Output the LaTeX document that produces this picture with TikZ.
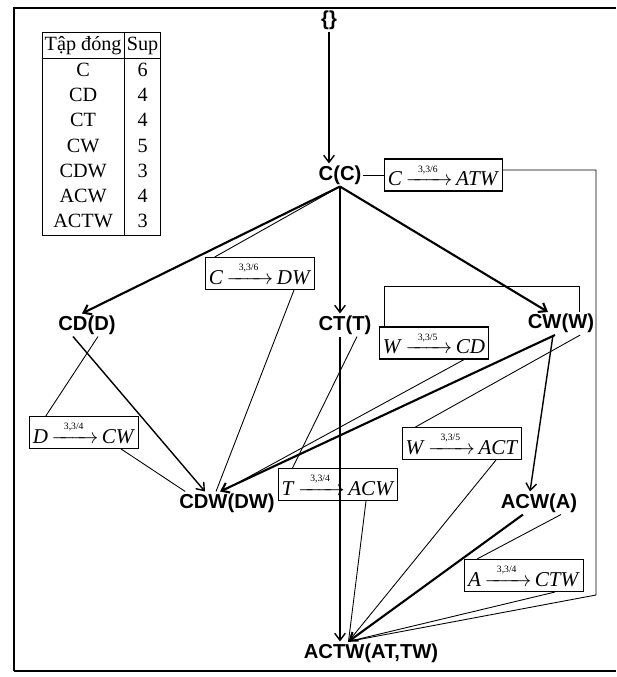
\documentclass[tikz,border=0pt]{standalone}
\usepackage{amsmath}
\usepackage{fontspec}
\setmainfont{Liberation Serif}
\setsansfont{Liberation Sans}
\usepackage{tikz}
\usetikzlibrary{positioning,arrows.meta}

\newcommand{\assoc}[3]{\textit{#1}\,$\xrightarrow{\makebox[20pt]{\raisebox{1pt}{\fontsize{5.5}{6}\selectfont #2}}}$\,\textit{#3}}

\begin{document}
\begin{tikzpicture}[
  >={Straight Barb[length=4pt,width=6pt]},
  lat/.style={font=\fontsize{11.5}{13}\sffamily\bfseries, inner sep=1pt},
  rulebox/.style={draw, line width=0.6pt, minimum height=0.64cm, inner xsep=2pt, inner ysep=1pt,
                  font=\fontsize{12}{14}\selectfont},
  thn/.style={line width=0.5pt},
  med/.style={->, line width=0.8pt},
  thk/.style={->, line width=1.2pt},
]
\useasboundingbox (0,0) rectangle (12.32,-13.54);
\draw[line width=0.8pt] (0.28,-13.42) -- (0.28,-0.16) -- (12.32,-0.16);
\draw[line width=1.6pt] (0.28,-13.42) -- (12.32,-13.42);

\node[draw, line width=0.6pt, inner sep=0pt, font=\fontsize{11.5}{14.4}\selectfont] (tbl) at (2.03,-2.68) {%
  \setlength{\tabcolsep}{1.5pt}%
  \begin{tabular}{c|c}
  Tập đóng & Sup\\ \hline
  C & 6\\ CD & 4\\ CT & 4\\ CW & 5\\ CDW & 3\\ ACW & 4\\ ACTW & 3
  \end{tabular}};

\node[lat] (empty) at (6.58,-0.40) {\{\}};
\node[lat] (cc) at (6.80,-3.50) {C(C)};
\node[lat] (cd) at (1.74,-6.50) {CD(D)};
\node[lat] (ct) at (6.90,-6.50) {CT(T)};
\node[lat] (cw) at (11.22,-6.47) {CW(W)};
\node[lat] (cdw) at (4.54,-10.06) {CDW(DW)};
\node[lat] (acw) at (10.78,-10.06) {ACW(A)};
\node[lat] (actw) at (7.42,-13.06) {ACTW(AT,TW)};

\node[rulebox] (rcatw) at (8.87,-3.50) {\assoc{C}{3,3/6}{ATW}};
\node[rulebox] (rcdw) at (5.20,-5.47) {\assoc{C}{3,3/6}{DW}};
\node[rulebox] (rwcd) at (8.68,-6.86) {\assoc{W}{3,3/5}{CD}};
\node[rulebox] (rdcw) at (1.68,-8.65) {\assoc{D}{3,3/4}{CW}};
\node[rulebox] (rwact) at (9.24,-8.87) {\assoc{W}{3,3/5}{ACT}};
\node[rulebox] (rtacw) at (6.76,-9.69) {\assoc{T}{3,3/4}{ACW}};
\node[rulebox] (ractw) at (10.48,-11.51) {\assoc{A}{3,3/4}{CTW}};

\coordinate (actwin) at ([xshift=-0.45cm]actw.north);
\coordinate (loopc) at (11.92,-11.9);

\draw[med] (empty.south) -- (empty.south |- cc.north);
\draw[thk] (cc.south) -- ([xshift=-0.1cm]cd.north);
\draw[med] (cc.south) -- (cc.south |- ct.north);
\draw[thk] (cc.south) -- ([xshift=-0.26cm]cw.north);
\draw[thn] (cc.south) -- ([xshift=0.2cm]rcdw.north west);
\draw[thn] (cc) -- (rcatw);
\draw[thn] ([yshift=0.1cm]rcatw.east) -| (loopc) -- (actwin);

\draw[thk] ([xshift=-0.12cm]cw.south) -- ([xshift=-0.14cm]cdw.north);
\draw[med] ([xshift=-0.16cm]cw.south) -- ([xshift=-0.18cm]acw.north);
\draw[thn] ([xshift=-0.32cm]cw.south east) -- ([xshift=0.28cm]rwact.north west);
\draw[thn] ([xshift=-0.34cm]cw.north east) -- ++(0,0.52) -| ([xshift=0.12cm]rwcd.north west);
\draw[thn] ([xshift=-0.5cm]rwcd.south east) -- ([xshift=-0.1cm]cdw.north);

\draw[med] ([xshift=-0.28cm]cd.south) -- ([xshift=-0.44cm]cdw.north);
\draw[thn] ([xshift=0.22cm]cd.south) -- ([xshift=0.34cm]rdcw.north west);
\draw[thn] ([xshift=-0.36cm]rdcw.south east) -- ([xshift=0.16cm]cdw.north west);
\draw[thn] ([xshift=0.68cm]rcdw.south) -- ([xshift=-0.22cm]cdw.north);

\draw[med] (cc.south |- ct.south) -- (cc.south |- actw.north);
\draw[thn] ([xshift=0.24cm]ct.south) -- ([xshift=0.3cm]rtacw.north west);
\draw[thn] ([xshift=0.56cm]rtacw.south) -- (actwin);
\draw[thn] ([xshift=0.68cm]rwact.south) -- (actwin);
\draw[thk] ([xshift=-0.32cm]acw.south) -- (actwin);
\draw[thn] ([xshift=0.44cm]acw.south) -- ([xshift=0.26cm]ractw.north west);
\draw[thn] ([xshift=0.62cm]ractw.south) -- (actwin);
\end{tikzpicture}
\end{document}
